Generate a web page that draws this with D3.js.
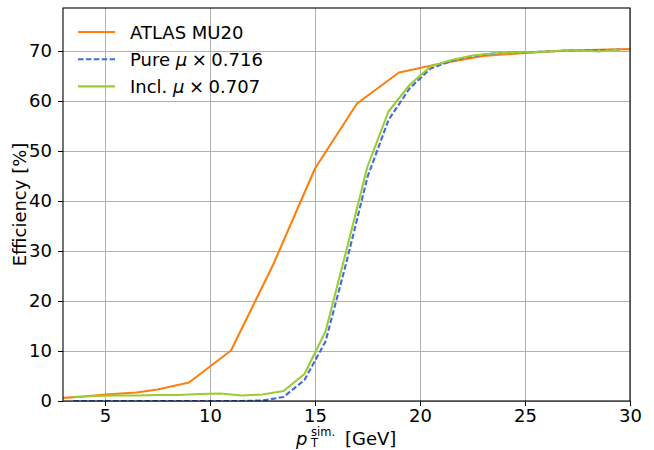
<!DOCTYPE html>
<html>
<head>
<meta charset="utf-8">
<script src="https://cdn.jsdelivr.net/npm/d3@7"></script>
<style>
  html, body { margin: 0; padding: 0; background: #fff; }
  svg text { font-family: "DejaVu Sans", sans-serif; fill: #000; }
</style>
</head>
<body>
<svg id="chart" width="654" height="450"></svg>
<script>
// Trigger efficiency (%) versus simulated transverse momentum (GeV)
const atlasPt  = [2.5, 4, 5, 6.5, 7.5, 9, 11, 13, 15, 17, 19, 21, 23, 25, 27, 29, 30.5];
const atlasEff = [0.5, 0.9, 1.3, 1.7, 2.3, 3.7, 10.1, 27.2, 46.5, 59.5, 65.7, 67.5, 69.0, 69.6, 70.1, 70.3, 70.4];

const binPt = [3.5, 4.5, 5.5, 6.5, 7.5, 8.5, 9.5, 10.5, 11.5, 12.5, 13.5, 14.5, 15.5, 16.5,
               17.5, 18.5, 19.5, 20.5, 21.5, 22.5, 23.5, 24.5, 25.5, 26.5, 27.5, 28.5, 29.5];
const pureEff = [0.0, 0.0, 0.0, 0.0, 0.0, 0.0, 0.0, 0.0, 0.0, 0.1, 0.8, 4.2, 11.9, 27.8,
                 44.8, 56.2, 62.5, 66.5, 68.0, 69.0, 69.5, 69.7, 69.8, 70.0, 70.2, 70.1, 70.3];
const inclEff = [0.8, 1.0, 1.1, 1.1, 1.2, 1.2, 1.4, 1.5, 1.1, 1.3, 2.0, 5.4, 13.9, 30.2,
                 46.9, 57.9, 63.2, 66.9, 68.2, 69.1, 69.5, 69.7, 69.8, 70.0, 70.2, 69.9, 70.3];

const xTicks = [5, 10, 15, 20, 25, 30];
const yTicks = [0, 10, 20, 30, 40, 50, 60, 70];

const series = [
  { name: "ATLAS MU20", x: atlasPt, y: atlasEff, color: "#ff7f0e", dash: null, factor: null },
  { name: "Pure", x: binPt, y: pureEff, color: "#4169e1", dash: "5.5,2.4", factor: "0.716" },
  { name: "Incl.", x: binPt, y: inclEff, color: "#9acd32", dash: null, factor: "0.707" }
];

const margin = { top: 8, right: 24, bottom: 49, left: 63 };
const W = 654, H = 450;
const w = W - margin.left - margin.right;
const h = H - margin.top - margin.bottom;
const FS = 18;

const svg = d3.select("#chart");
const g = svg.append("g").attr("transform", `translate(${margin.left},${margin.top})`);

const x = d3.scaleLinear().domain([3, 30]).range([0, w]);
const y = d3.scaleLinear().domain([0, 78.6]).range([h, 0]);

svg.append("defs").append("clipPath").attr("id", "plotClip")
  .append("rect").attr("width", w).attr("height", h);

// grid
const grid = g.append("g").attr("stroke", "#b0b0b0").attr("stroke-width", 1);
grid.selectAll(".gx").data(xTicks).join("line")
  .attr("x1", d => Math.round(x(d)) + 0.5).attr("x2", d => Math.round(x(d)) + 0.5)
  .attr("y1", 0).attr("y2", h);
grid.selectAll(".gy").data(yTicks).join("line")
  .attr("y1", d => Math.round(y(d)) + 0.5).attr("y2", d => Math.round(y(d)) + 0.5)
  .attr("x1", 0).attr("x2", w);

// curves
const line = d3.line().x(d => x(d[0])).y(d => y(d[1]));
const curves = g.append("g").attr("clip-path", "url(#plotClip)");
series.forEach(s => {
  curves.append("path")
    .datum(s.x.map((v, i) => [v, s.y[i]]))
    .attr("d", line)
    .attr("fill", "none")
    .attr("stroke", s.color)
    .attr("stroke-width", 2.1)
    .attr("stroke-dasharray", s.dash)
    .attr("stroke-linejoin", "round");
});

// axes
const xAxis = g.append("g").attr("transform", `translate(0,${h})`)
  .call(d3.axisBottom(x).tickValues(xTicks).tickSize(5).tickPadding(3).tickFormat(d3.format("d")));
const yAxis = g.append("g")
  .call(d3.axisLeft(y).tickValues(yTicks).tickSize(5).tickPadding(6).tickFormat(d3.format("d")));
[xAxis, yAxis].forEach(a => {
  a.select(".domain").remove();
  a.selectAll(".tick line").attr("stroke", "#000").attr("stroke-width", 1);
  a.selectAll(".tick text").attr("font-size", FS).attr("font-family", "DejaVu Sans");
});

// frame
g.append("rect").attr("x", 0).attr("y", 0).attr("width", w).attr("height", h)
  .attr("fill", "none").attr("stroke", "#000").attr("stroke-width", 1.1);

// x axis label: p_T^{sim.} [GeV], set as one text with stacked sub/superscript
const xl = svg.append("text").attr("font-size", FS);
xl.append("tspan").attr("x", 296).attr("y", 444.5).attr("font-style", "italic").text("p");
xl.append("tspan").attr("x", 311).attr("y", 447).attr("font-size", 11.5).text("T");
xl.append("tspan").attr("x", 311).attr("y", 436).attr("font-size", 11.5).text("sim.");
xl.append("tspan").attr("x", 345).attr("y", 444.5).text("[GeV]");

svg.append("text")
  .attr("transform", `translate(26,${margin.top + h / 2}) rotate(-90)`)
  .attr("text-anchor", "middle")
  .attr("font-size", FS)
  .text("Efficiency [%]");

// legend
const legend = g.append("g").attr("transform", "translate(15,24)");
series.forEach((s, i) => {
  const row = legend.append("g").attr("transform", `translate(0,${i * 27.2})`);
  row.append("line").attr("x1", 0).attr("x2", 37).attr("y1", 0).attr("y2", 0)
    .attr("stroke", s.color).attr("stroke-width", 2.1).attr("stroke-dasharray", s.dash);
  const t = row.append("text").attr("x", 52).attr("y", 6.6).attr("font-size", FS);
  t.append("tspan").text(s.name);
  if (s.factor) {
    t.append("tspan").text(" ");
    t.append("tspan").attr("font-style", "italic").text("\u03bc");
    t.append("tspan").text("\u2005\u00d7\u2005" + s.factor);
  }
});
</script>
</body>
</html>
